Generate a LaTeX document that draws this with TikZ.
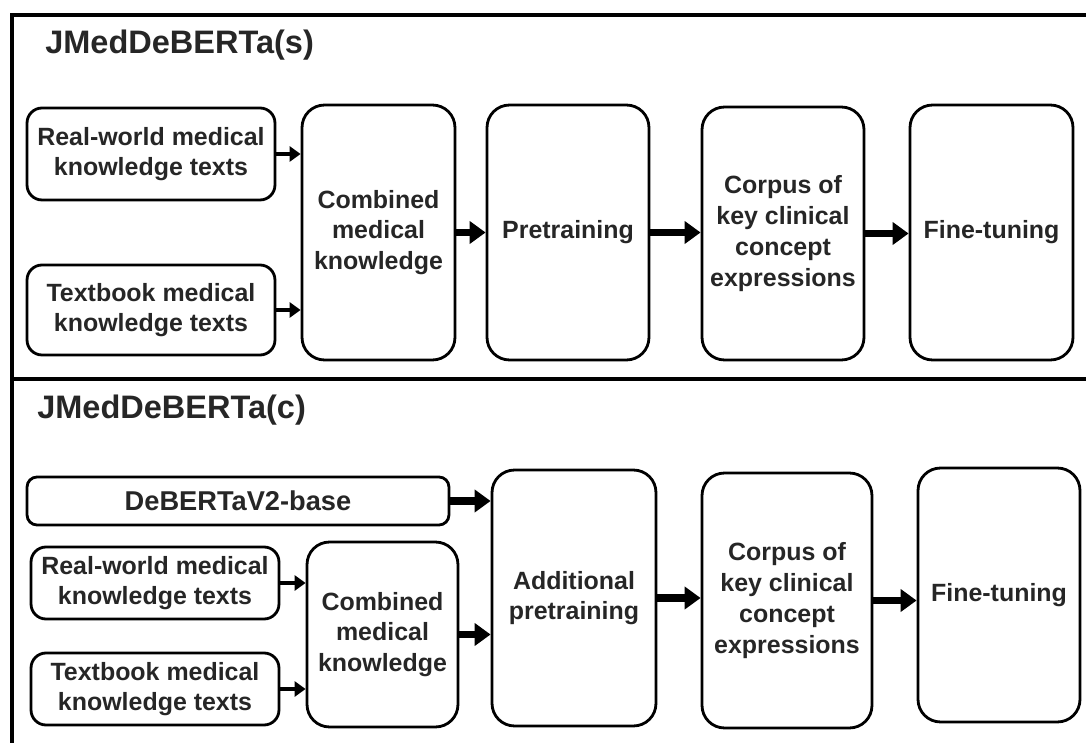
\documentclass[tikz,border=0pt]{standalone}
\usepackage{fontspec}
\setmainfont{Liberation Sans}
\usepackage{xcolor}
\usepackage{tikz}
\usetikzlibrary{arrows.meta}
\definecolor{ink}{HTML}{262626}

\begin{document}
\begin{tikzpicture}[x=0.02cm,y=-0.02cm,
    stage/.style={draw,line width=1.6pt,rounded corners=0.45cm,align=center,
      text=ink,font=\bfseries\fontsize{14.2}{17.5}\selectfont,inner sep=0pt},
    source/.style={stage,rounded corners=0.3cm},
    title/.style={anchor=west,inner sep=0pt,text=ink,font=\bfseries\fontsize{18.5}{22}\selectfont},
    flow/.style={-{Triangle[length=0.32cm,width=0.44cm]},line width=4pt},
    feed/.style={-{Triangle[length=0.22cm,width=0.3cm]},line width=2.6pt}]
  \useasboundingbox (0,0) rectangle (1086,743);
  % frame
  \draw[line width=2.3pt] (10,15)--(1086,15);
  \draw[line width=2.3pt] (12,14)--(12,743);
  \draw[line width=1.8pt] (12,379)--(1086,379);
  % upper panel
  \node[title] (ttlS) at (45,45) {JMedDeBERTa(s)};
  \node[source,minimum width=4.96cm,minimum height=1.84cm] (rwS) at (151,154) {Real-world medical\\knowledge texts};
  \node[source,minimum width=4.96cm,minimum height=1.8cm] (tbS) at (151,310) {Textbook medical\\knowledge texts};
  \node[stage,minimum width=3.06cm,minimum height=5.1cm] (cmbS) at (378.5,232.5) {Combined\\medical\\knowledge};
  \node[stage,minimum width=3.24cm,minimum height=5.1cm] (preS) at (568,232.5) {Pretraining};
  \node[stage,minimum width=3.24cm,minimum height=5.06cm] (corS) at (783,233.5) {Corpus of\\key clinical\\concept\\expressions};
  \node[stage,minimum width=3.26cm,minimum height=5.1cm] (finS) at (991.5,232.5) {Fine-tuning};
  \draw[feed] (rwS.east) -- (rwS.east -| cmbS.west);
  \draw[feed] (tbS.east) -- (tbS.east -| cmbS.west);
  \draw[flow] (cmbS.east) -- (preS.west);
  \draw[flow] (preS.east) -- (corS.west |- preS.east);
  \draw[flow] (corS.east) -- (finS.west |- corS.east);
  % lower panel
  \node[title] (ttlC) at (37,410) {JMedDeBERTa(c)};
  \node[source,rounded corners=0.2cm,minimum width=8.44cm,minimum height=0.96cm,font=\bfseries\fontsize{15.5}{18}\selectfont] (base) at (238,501) {DeBERTaV2-base};
  \node[source,minimum width=4.96cm,minimum height=1.44cm] (rwC) at (155,583) {Real-world medical\\knowledge texts};
  \node[source,minimum width=4.96cm,minimum height=1.44cm] (tbC) at (155,689) {Textbook medical\\knowledge texts};
  \node[stage,minimum width=3.02cm,minimum height=3.7cm] (cmbC) at (382.5,634.5) {Combined\\medical\\knowledge};
  \node[stage,minimum width=3.28cm,minimum height=5.12cm] (addC) at (574,598) {Additional\\pretraining};
  \node[stage,minimum width=3.4cm,minimum height=5.1cm] (corC) at (787,600.5) {Corpus of\\key clinical\\concept\\expressions};
  \node[stage,minimum width=3.24cm,minimum height=5.08cm] (finC) at (999,595) {Fine-tuning};
  \draw[flow] (base.east) -- (base.east -| addC.west);
  \draw[feed] (rwC.east) -- (rwC.east -| cmbC.west);
  \draw[feed] (tbC.east) -- (tbC.east -| cmbC.west);
  \draw[flow] (cmbC.east) -- (cmbC.east -| addC.west);
  \draw[flow] (addC.east) -- (addC.east -| corC.west);
  \draw[flow] (corC.east) -- (corC.east -| finC.west);
\end{tikzpicture}
\end{document}
